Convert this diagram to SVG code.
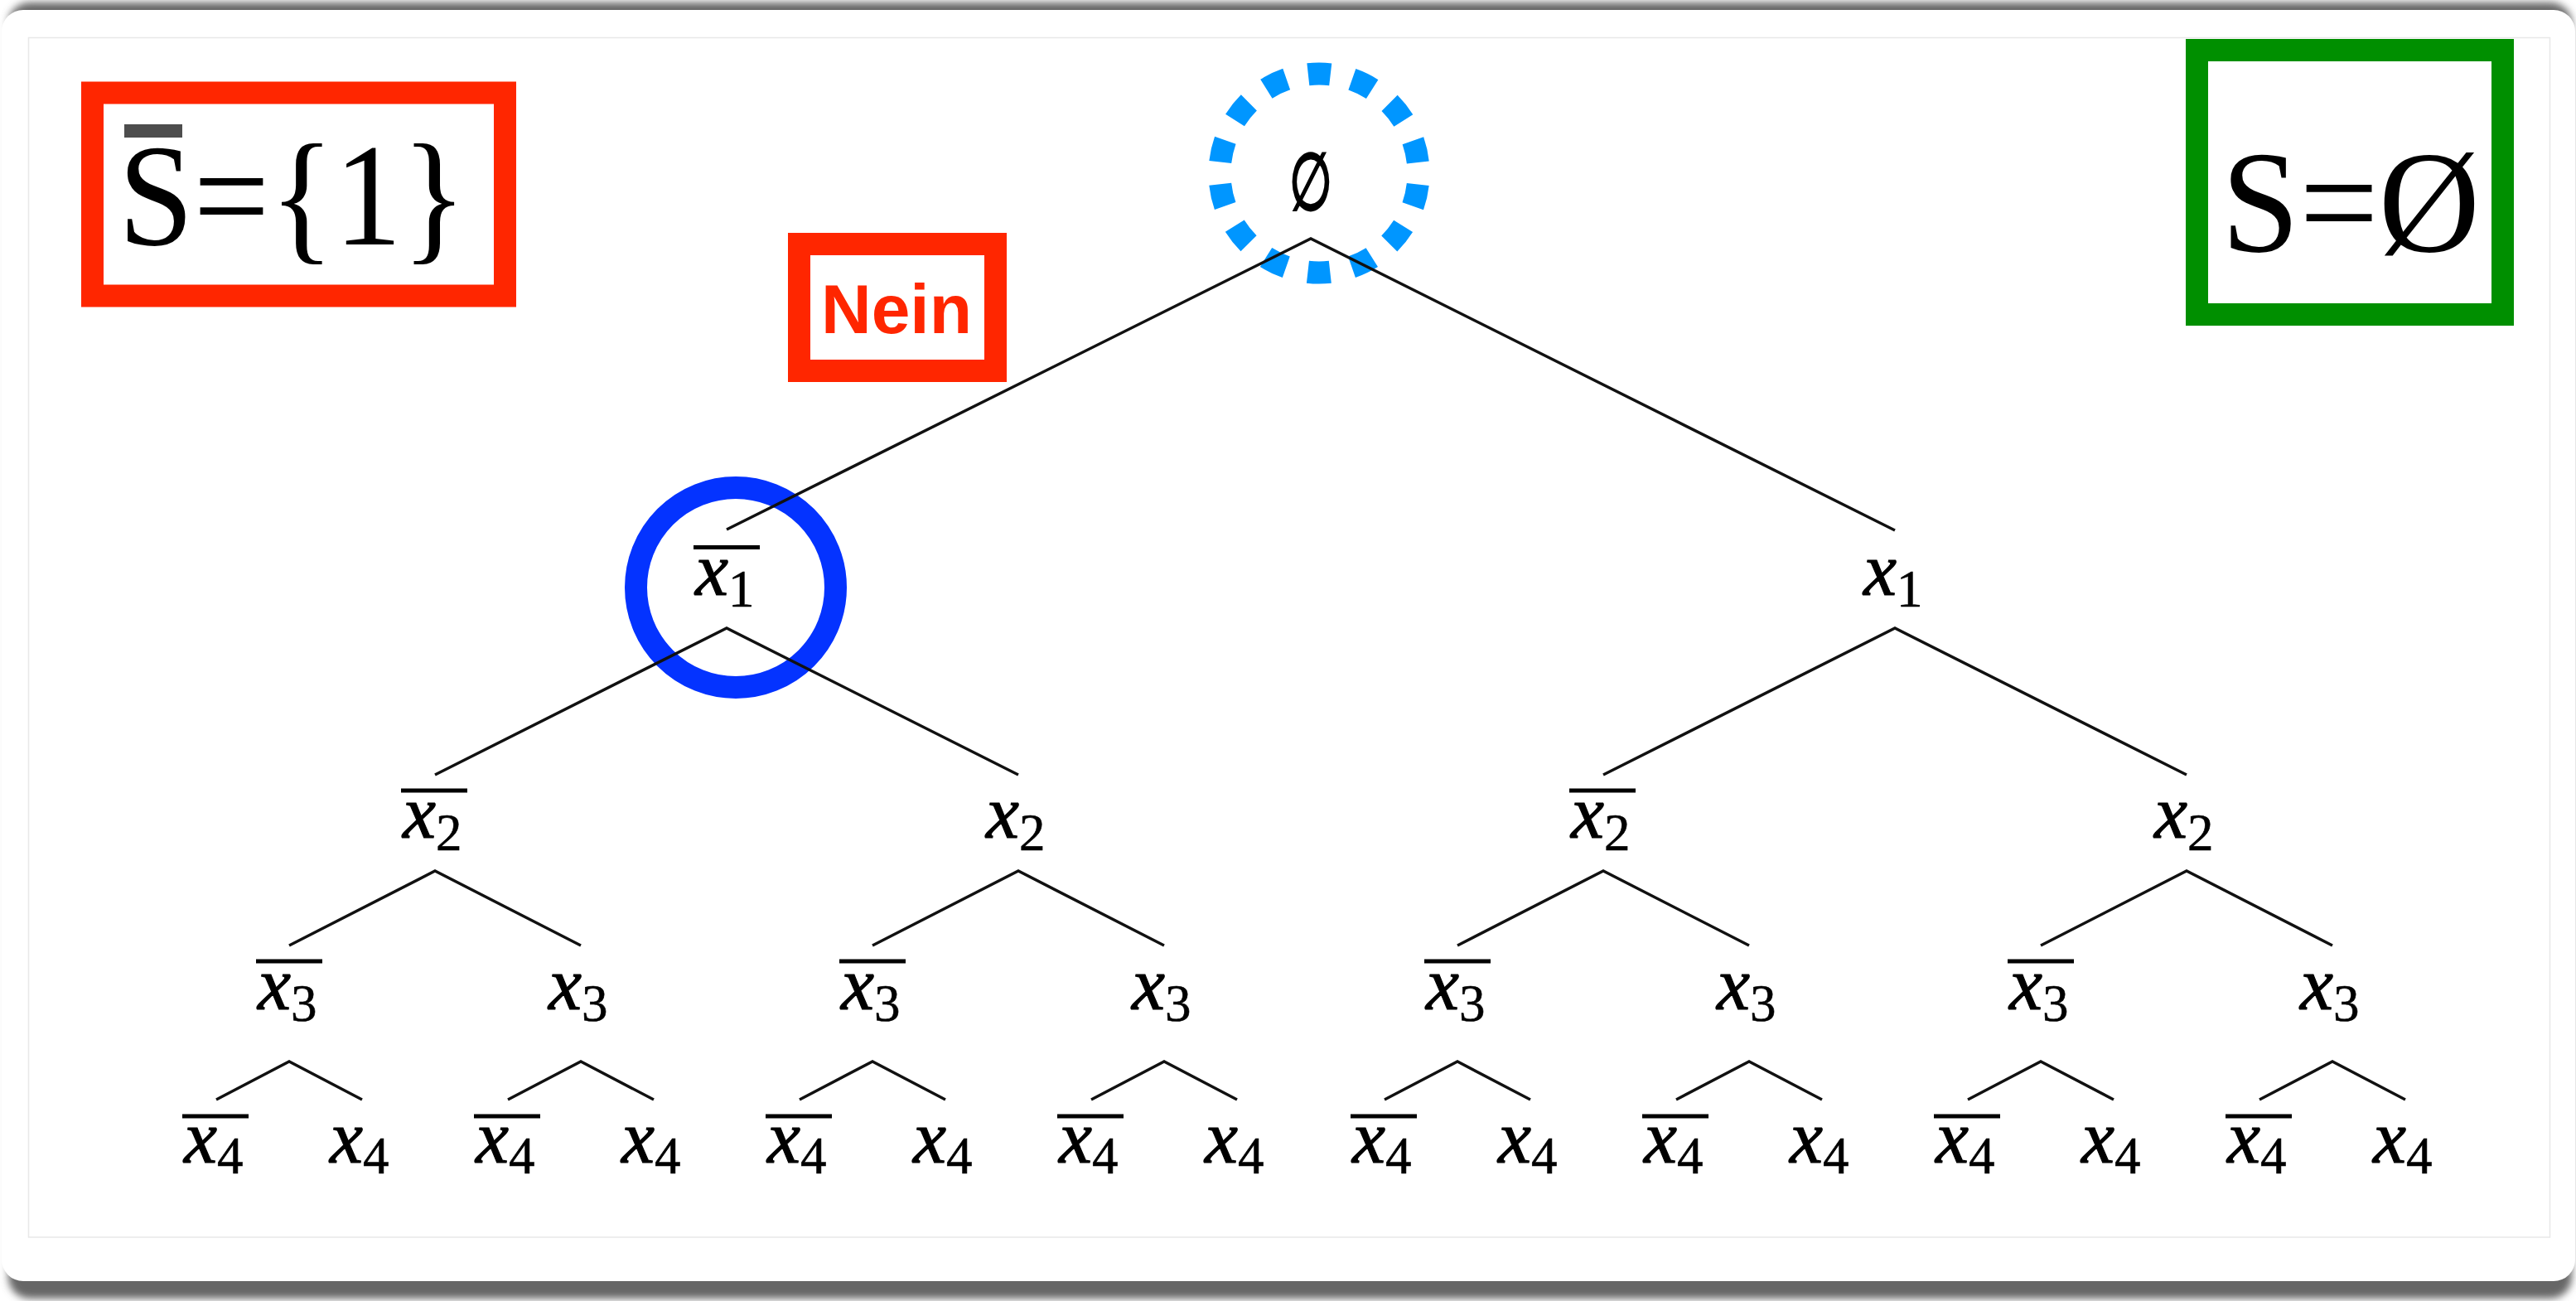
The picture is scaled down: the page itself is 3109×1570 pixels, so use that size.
<svg xmlns="http://www.w3.org/2000/svg" width="3109" height="1570" viewBox="0 0 3109 1570">
<style>
.lab{font-family:"Liberation Serif","Times New Roman",serif;font-style:italic;font-size:90px;fill:#000;stroke:#000;stroke-width:1.2px}
.sub{font-style:normal;font-size:63px;stroke-width:0.6px}
.ov{stroke:#000;stroke-width:5}
.edge{stroke:#111;stroke-width:3.5;fill:none;stroke-linecap:butt;stroke-linejoin:miter}
.big{font-family:"Liberation Serif","Times New Roman",serif;font-size:176px;fill:#000}
</style>
<defs>
<filter id="sh" x="-2%" y="-3%" width="104%" height="106%"><feGaussianBlur stdDeviation="5"/></filter>
</defs>
<rect width="3109" height="1570" fill="#ffffff"/>
<g id="page">
<rect x="10" y="3" width="3094" height="1564" rx="26" fill="#666" filter="url(#sh)"/>
<rect x="2" y="12" width="3106" height="1534" rx="26" fill="#ffffff"/>
<rect x="34.5" y="45.5" width="3043" height="1447.5" fill="#ffffff" stroke="#e8e8e8" stroke-width="1.5"/>
</g>
<g id="sbar-box">
<rect x="111.5" y="112" width="498" height="245" fill="#ffffff" stroke="#ff2600" stroke-width="27"/>
<rect x="150" y="150" width="70" height="16" fill="#4d4d4d"/>
<text class="big" x="143" y="295" textLength="420" lengthAdjust="spacingAndGlyphs">S={1}</text>
</g>
<g id="s-box">
<rect x="2651.5" y="60.5" width="369" height="319" fill="#ffffff" stroke="#008f00" stroke-width="27"/>
<text class="big" x="2681" y="303" textLength="312" lengthAdjust="spacingAndGlyphs">S=Ø</text>
</g>
<g id="nein">
<rect x="964.5" y="294.5" width="237" height="153" fill="#ffffff" stroke="#ff2600" stroke-width="27"/>
<text x="1082" y="402" text-anchor="middle" font-family="'Liberation Sans',Arial,sans-serif" font-weight="bold" font-size="84" fill="#ff2600">Nein</text>
</g>
<g id="root-ring">
<circle cx="1592" cy="209" r="120" fill="none" stroke="#0096ff" stroke-width="27" stroke-dasharray="27 26.86" stroke-dashoffset="40.4"/>
</g>
<g id="x1bar-ring">
<circle cx="888" cy="709" r="120.5" fill="none" stroke="#0433ff" stroke-width="27"/>
</g>
<g id="connectors">
<polyline class="edge" points="877,639 1582,288 2287,640"/>
<polyline class="edge" points="525,935 877,758 1229,935"/>
<polyline class="edge" points="1935,935 2287,758 2639,935"/>
<polyline class="edge" points="349,1141 525,1051 701,1141"/>
<polyline class="edge" points="1053,1141 1229,1051 1405,1141"/>
<polyline class="edge" points="1759,1141 1935,1051 2111,1141"/>
<polyline class="edge" points="2463,1141 2639,1051 2815,1141"/>
<polyline class="edge" points="261,1327 349,1281 437,1327"/>
<polyline class="edge" points="613,1327 701,1281 789,1327"/>
<polyline class="edge" points="965,1327 1053,1281 1141,1327"/>
<polyline class="edge" points="1317,1327 1405,1281 1493,1327"/>
<polyline class="edge" points="1671,1327 1759,1281 1847,1327"/>
<polyline class="edge" points="2023,1327 2111,1281 2199,1327"/>
<polyline class="edge" points="2375,1327 2463,1281 2551,1327"/>
<polyline class="edge" points="2727,1327 2815,1281 2903,1327"/>
</g>
<g id="n-root"><text x="0" y="0" transform="translate(1582 253) scale(0.62 1)" text-anchor="middle" font-family="'DejaVu Serif',serif" font-weight="bold" font-size="96" fill="#000">∅</text></g>
<g id="n-x1bar"><line class="ov" x1="837" y1="660.5" x2="917" y2="660.5"/><text class="lab" x="839" y="718">x<tspan class="sub" dy="14">1</tspan></text></g>
<g id="n-x1"><text class="lab" x="2249" y="718">x<tspan class="sub" dy="14">1</tspan></text></g>
<g id="n-x2bar-a"><line class="ov" x1="484" y1="954" x2="564" y2="954"/><text class="lab" x="486" y="1011">x<tspan class="sub" dy="15">2</tspan></text></g>
<g id="n-x2-a"><text class="lab" x="1190" y="1011">x<tspan class="sub" dy="15">2</tspan></text></g>
<g id="n-x2bar-b"><line class="ov" x1="1894" y1="954" x2="1974" y2="954"/><text class="lab" x="1896" y="1011">x<tspan class="sub" dy="15">2</tspan></text></g>
<g id="n-x2-b"><text class="lab" x="2600" y="1011">x<tspan class="sub" dy="15">2</tspan></text></g>
<g id="n-x3bar-a"><line class="ov" x1="309" y1="1160" x2="389" y2="1160"/><text class="lab" x="311" y="1218">x<tspan class="sub" dy="14">3</tspan></text></g>
<g id="n-x3-a"><text class="lab" x="662" y="1218">x<tspan class="sub" dy="14">3</tspan></text></g>
<g id="n-x3bar-b"><line class="ov" x1="1013" y1="1160" x2="1093" y2="1160"/><text class="lab" x="1015" y="1218">x<tspan class="sub" dy="14">3</tspan></text></g>
<g id="n-x3-b"><text class="lab" x="1366" y="1218">x<tspan class="sub" dy="14">3</tspan></text></g>
<g id="n-x3bar-c"><line class="ov" x1="1719" y1="1160" x2="1799" y2="1160"/><text class="lab" x="1721" y="1218">x<tspan class="sub" dy="14">3</tspan></text></g>
<g id="n-x3-c"><text class="lab" x="2072" y="1218">x<tspan class="sub" dy="14">3</tspan></text></g>
<g id="n-x3bar-d"><line class="ov" x1="2423" y1="1160" x2="2503" y2="1160"/><text class="lab" x="2425" y="1218">x<tspan class="sub" dy="14">3</tspan></text></g>
<g id="n-x3-d"><text class="lab" x="2776" y="1218">x<tspan class="sub" dy="14">3</tspan></text></g>
<g id="n-x4bar-a"><line class="ov" x1="220" y1="1347" x2="300" y2="1347"/><text class="lab" x="222" y="1403">x<tspan class="sub" dy="13">4</tspan></text></g>
<g id="n-x4-a"><text class="lab" x="398" y="1403">x<tspan class="sub" dy="13">4</tspan></text></g>
<g id="n-x4bar-b"><line class="ov" x1="572" y1="1347" x2="652" y2="1347"/><text class="lab" x="574" y="1403">x<tspan class="sub" dy="13">4</tspan></text></g>
<g id="n-x4-b"><text class="lab" x="750" y="1403">x<tspan class="sub" dy="13">4</tspan></text></g>
<g id="n-x4bar-c"><line class="ov" x1="924" y1="1347" x2="1004" y2="1347"/><text class="lab" x="926" y="1403">x<tspan class="sub" dy="13">4</tspan></text></g>
<g id="n-x4-c"><text class="lab" x="1102" y="1403">x<tspan class="sub" dy="13">4</tspan></text></g>
<g id="n-x4bar-d"><line class="ov" x1="1276" y1="1347" x2="1356" y2="1347"/><text class="lab" x="1278" y="1403">x<tspan class="sub" dy="13">4</tspan></text></g>
<g id="n-x4-d"><text class="lab" x="1454" y="1403">x<tspan class="sub" dy="13">4</tspan></text></g>
<g id="n-x4bar-e"><line class="ov" x1="1630" y1="1347" x2="1710" y2="1347"/><text class="lab" x="1632" y="1403">x<tspan class="sub" dy="13">4</tspan></text></g>
<g id="n-x4-e"><text class="lab" x="1808" y="1403">x<tspan class="sub" dy="13">4</tspan></text></g>
<g id="n-x4bar-f"><line class="ov" x1="1982" y1="1347" x2="2062" y2="1347"/><text class="lab" x="1984" y="1403">x<tspan class="sub" dy="13">4</tspan></text></g>
<g id="n-x4-f"><text class="lab" x="2160" y="1403">x<tspan class="sub" dy="13">4</tspan></text></g>
<g id="n-x4bar-g"><line class="ov" x1="2334" y1="1347" x2="2414" y2="1347"/><text class="lab" x="2336" y="1403">x<tspan class="sub" dy="13">4</tspan></text></g>
<g id="n-x4-g"><text class="lab" x="2512" y="1403">x<tspan class="sub" dy="13">4</tspan></text></g>
<g id="n-x4bar-h"><line class="ov" x1="2686" y1="1347" x2="2766" y2="1347"/><text class="lab" x="2688" y="1403">x<tspan class="sub" dy="13">4</tspan></text></g>
<g id="n-x4-h"><text class="lab" x="2864" y="1403">x<tspan class="sub" dy="13">4</tspan></text></g>
</svg>
